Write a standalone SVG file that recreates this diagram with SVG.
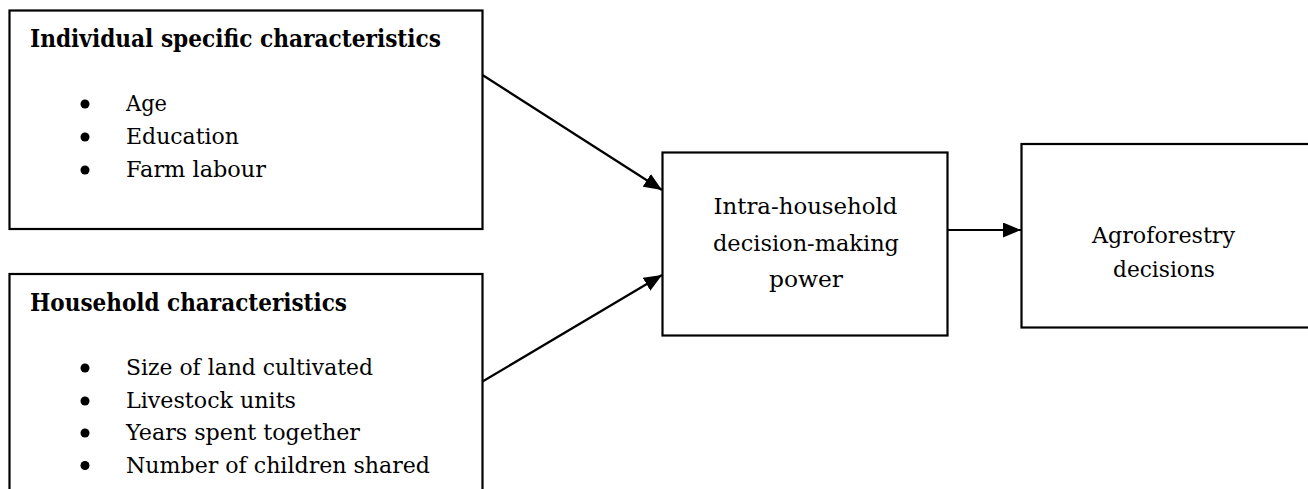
<svg xmlns="http://www.w3.org/2000/svg" width="1308" height="489" viewBox="0 0 1308 489">
<style>
.box{fill:#fff;stroke:#000;stroke-width:2.2}
.t{font-family:"DejaVu Serif","Liberation Serif",serif;font-size:22px;fill:#000}
.h{font-family:"DejaVu Serif","Liberation Serif",serif;font-size:23.5px;font-weight:bold;fill:#000}
.c{text-anchor:middle}
.conn{stroke:#000;stroke-width:2.2;fill:none}
</style>
<defs>
<marker id="arr" markerUnits="userSpaceOnUse" markerWidth="19" markerHeight="15" refX="18" refY="7.5" orient="auto">
<path d="M0,0 L18,7.5 L0,15 z" fill="#000"/>
</marker>
</defs>
<g id="individual">
<rect class="box" x="9.5" y="10.5" width="473" height="218.5"/>
<text class="h" x="30" y="46.5" textLength="411" lengthAdjust="spacingAndGlyphs">Individual specific characteristics</text>
<circle cx="85" cy="104" r="4.5"/>
<circle cx="85" cy="137" r="4.5"/>
<circle cx="85" cy="170" r="4.5"/>
<text class="t" x="126" y="111" textLength="41" lengthAdjust="spacingAndGlyphs">Age</text>
<text class="t" x="126" y="144" textLength="113" lengthAdjust="spacingAndGlyphs">Education</text>
<text class="t" x="126" y="177" textLength="140" lengthAdjust="spacingAndGlyphs">Farm labour</text>
</g>
<g id="household">
<rect class="box" x="9.5" y="274" width="473" height="230"/>
<text class="h" x="30" y="310.5" textLength="317" lengthAdjust="spacingAndGlyphs">Household characteristics</text>
<circle cx="85" cy="368" r="4.5"/>
<circle cx="85" cy="401" r="4.5"/>
<circle cx="85" cy="433" r="4.5"/>
<circle cx="85" cy="465.5" r="4.5"/>
<text class="t" x="126" y="375" textLength="247" lengthAdjust="spacingAndGlyphs">Size of land cultivated</text>
<text class="t" x="126" y="407.7" textLength="170" lengthAdjust="spacingAndGlyphs">Livestock units</text>
<text class="t" x="126" y="440" textLength="234" lengthAdjust="spacingAndGlyphs">Years spent together</text>
<text class="t" x="126" y="472.5" textLength="304" lengthAdjust="spacingAndGlyphs">Number of children shared</text>
</g>
<g id="intra">
<rect class="box" x="662.5" y="152.5" width="285" height="183"/>
<text class="t c" x="805.5" y="214" textLength="184" lengthAdjust="spacingAndGlyphs">Intra-household</text>
<text class="t c" x="806" y="250.5" textLength="186" lengthAdjust="spacingAndGlyphs">decision-making</text>
<text class="t c" x="806" y="286.7" textLength="74" lengthAdjust="spacingAndGlyphs">power</text>
</g>
<g id="agroforestry">
<rect class="box" x="1021.5" y="144" width="300" height="183.5"/>
<text class="t c" x="1163.5" y="243.3" textLength="143" lengthAdjust="spacingAndGlyphs">Agroforestry</text>
<text class="t c" x="1164" y="276.7" textLength="102" lengthAdjust="spacingAndGlyphs">decisions</text>
</g>
<g id="connectors">
<line class="conn" x1="482.5" y1="75" x2="662" y2="190" marker-end="url(#arr)"/>
<line class="conn" x1="482.5" y1="381.5" x2="662" y2="275" marker-end="url(#arr)"/>
<line class="conn" x1="948" y1="230" x2="1021" y2="230" marker-end="url(#arr)"/>
</g>
</svg>
